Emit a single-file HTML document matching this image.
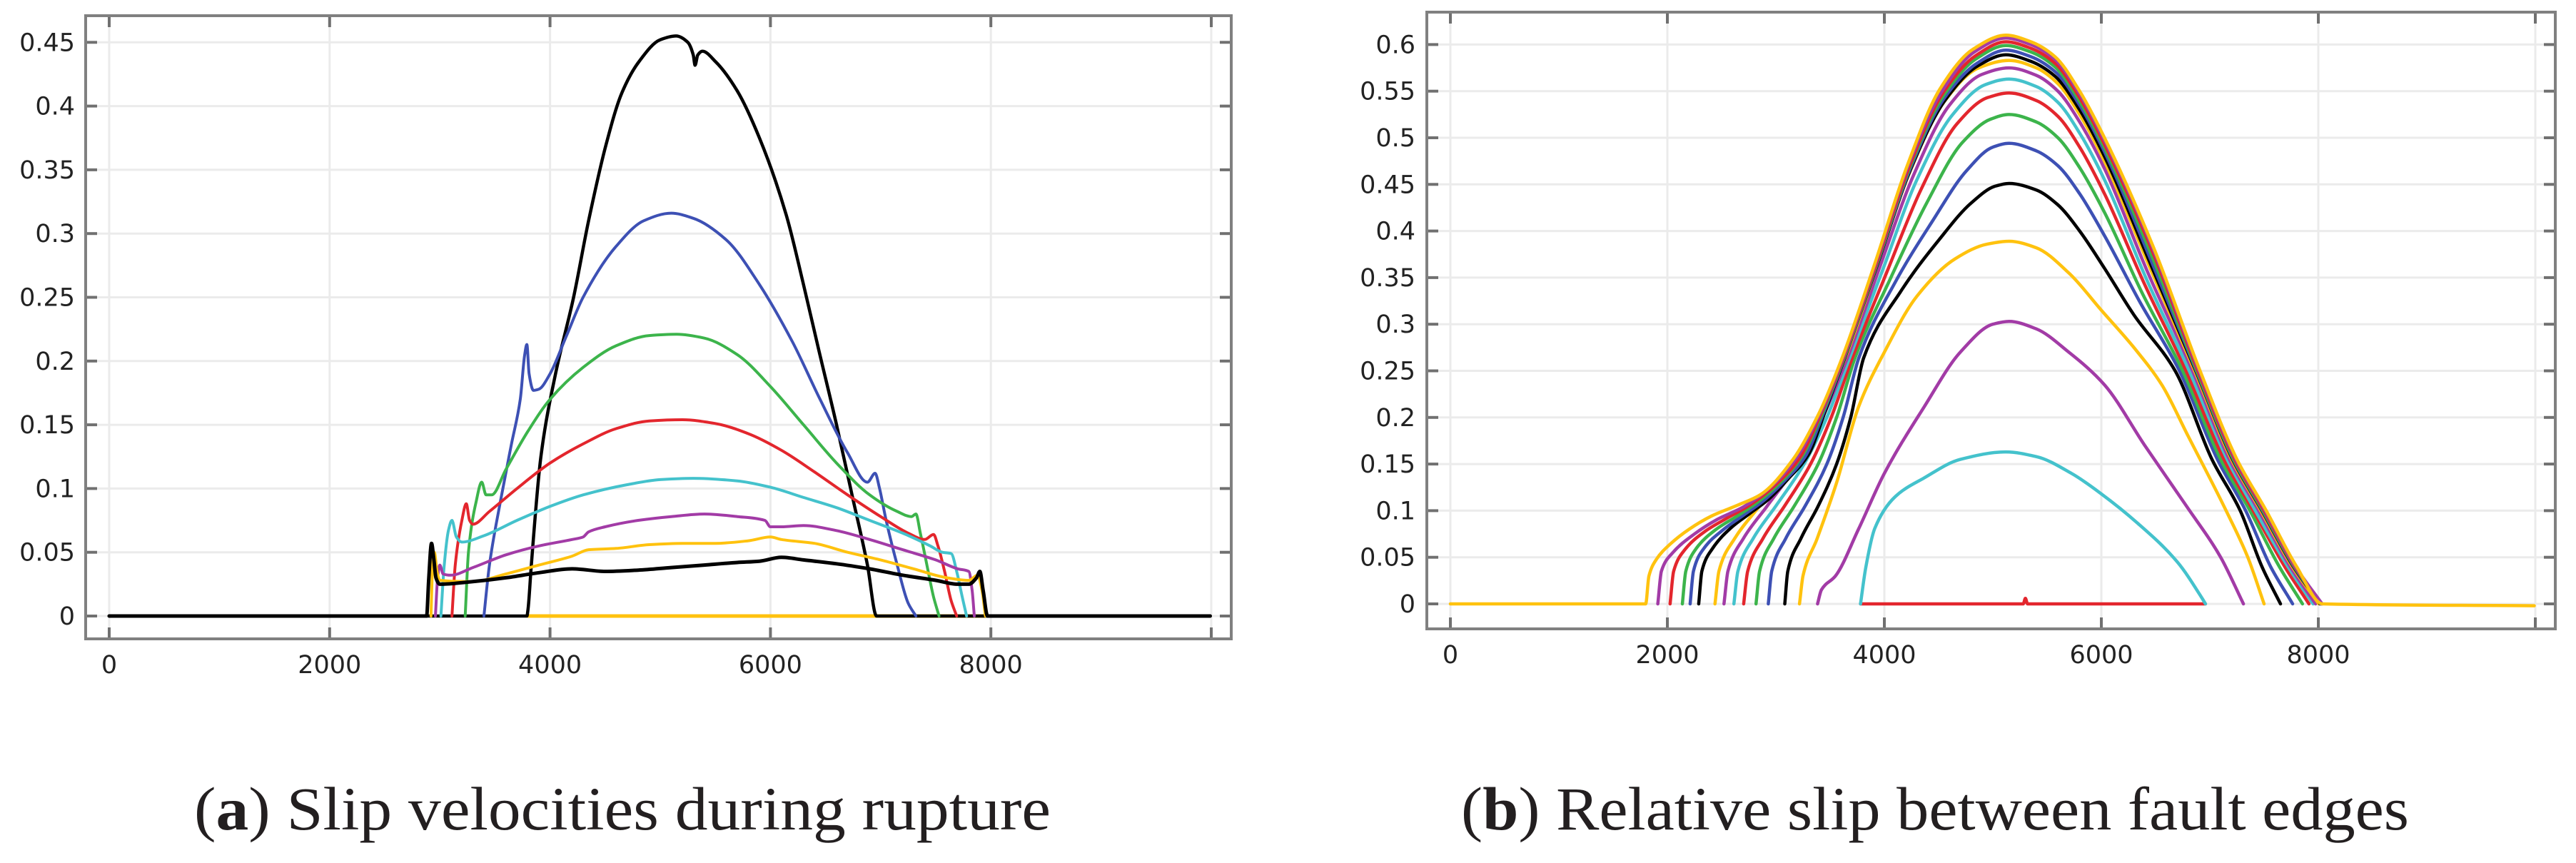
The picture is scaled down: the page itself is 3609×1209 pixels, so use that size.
<!DOCTYPE html>
<html><head><meta charset="utf-8"><style>
html,body{margin:0;padding:0;background:#fff;}
svg{display:block;}
.tick{font-family:"DejaVu Sans","Liberation Sans",sans-serif;font-size:35px;fill:#222;}
.cap{font-family:"Liberation Serif",serif;font-size:86px;fill:#231f20;}
</style></head><body>
<svg id="fig" width="3609" height="1209" viewBox="0 0 3609 1209" xmlns="http://www.w3.org/2000/svg">
<g id="chartA"></g>
<g id="chartB"></g>
<text class="cap" x="872" y="1162" text-anchor="middle" textLength="1200" lengthAdjust="spacingAndGlyphs">(<tspan font-weight="bold">a</tspan>) Slip velocities during rupture</text>
<text class="cap" x="2711" y="1162" text-anchor="middle" textLength="1328" lengthAdjust="spacingAndGlyphs">(<tspan font-weight="bold">b</tspan>) Relative slip between fault edges</text>
</svg>
<script>
// ---------- Chart A data ----------
const aXTicks = [0, 2000, 4000, 6000, 8000, 10000];
const aXTickLabels = ["0", "2000", "4000", "6000", "8000", ""];
const aYTicks = [0, 0.05, 0.1, 0.15, 0.2, 0.25, 0.3, 0.35, 0.4, 0.45];
const aYTickLabels = ["0", "0.05", "0.1", "0.15", "0.2", "0.25", "0.3", "0.35", "0.4", "0.45"];
const aBlackBig = [[0,0],[3790,0],[3800,0.005],[3830,0.04],[3917,0.125],[4050,0.19],[4214,0.25],[4350,0.31],[4509,0.37],[4650,0.41],[4808,0.435],[5000,0.452],[5143,0.455],[5250,0.45],[5300,0.44],[5316,0.432],[5340,0.44],[5383,0.443],[5500,0.435],[5698,0.412],[5900,0.375],[6142,0.315],[6300,0.26],[6443,0.207],[6600,0.15],[6740,0.095],[6880,0.04],[6963,0],[9990,0]];
const aBlue = [[3400,0],[3450,0.04],[3550,0.09],[3650,0.135],[3730,0.17],[3770,0.205],[3790,0.213],[3810,0.19],[3850,0.177],[3900,0.178],[4000,0.19],[4150,0.22],[4300,0.25],[4600,0.29],[4850,0.31],[5100,0.316],[5300,0.312],[5600,0.295],[5900,0.26],[6200,0.215],[6450,0.17],[6700,0.128],[6880,0.105],[6950,0.112],[6990,0.1],[7050,0.075],[7150,0.04],[7250,0.01],[7320,0]];
const aGreen = [[3230,0],[3260,0.05],[3330,0.09],[3380,0.105],[3420,0.095],[3470,0.095],[3600,0.115],[3800,0.145],[4000,0.17],[4300,0.195],[4600,0.212],[4900,0.22],[5150,0.221],[5400,0.218],[5700,0.205],[6000,0.18],[6300,0.15],[6600,0.12],[6900,0.095],[7150,0.082],[7280,0.078],[7320,0.08],[7360,0.065],[7420,0.04],[7480,0.015],[7530,0]];
const aRed = [[3110,0],[3140,0.04],[3200,0.075],[3240,0.088],[3270,0.075],[3300,0.072],[3450,0.082],[3700,0.1],[4000,0.12],[4300,0.135],[4600,0.147],[4900,0.153],[5200,0.154],[5500,0.151],[5800,0.143],[6100,0.13],[6400,0.113],[6700,0.095],[7000,0.078],[7250,0.065],[7400,0.06],[7480,0.064],[7520,0.055],[7580,0.035],[7640,0.012],[7690,0]];
const aCyan = [[3010,0],[3040,0.04],[3080,0.068],[3110,0.075],[3150,0.062],[3200,0.058],[3400,0.063],[3700,0.075],[4000,0.086],[4300,0.095],[4700,0.103],[5000,0.107],[5300,0.108],[5700,0.106],[6000,0.101],[6300,0.093],[6600,0.085],[6900,0.075],[7200,0.065],[7450,0.055],[7560,0.05],[7640,0.049],[7690,0.035],[7740,0.015],[7780,0]];
const aMagenta = [[2960,0],[2980,0.03],[3000,0.04],[3030,0.033],[3100,0.032],[3300,0.038],[3600,0.048],[3900,0.055],[4200,0.06],[4300,0.062],[4350,0.066],[4500,0.07],[4800,0.075],[5100,0.078],[5400,0.08],[5700,0.078],[5950,0.075],[6000,0.07],[6100,0.07],[6300,0.071],[6600,0.067],[6900,0.06],[7200,0.052],[7500,0.044],[7700,0.037],[7800,0.035],[7830,0.02],[7850,0]];
const aYellow = [[2920,0],[2935,0.04],[2950,0.05],[2975,0.035],[3000,0.028],[3300,0.027],[3600,0.033],[3900,0.04],[4200,0.047],[4350,0.052],[4600,0.053],[4900,0.056],[5200,0.057],[5500,0.057],[5800,0.059],[6000,0.062],[6100,0.06],[6400,0.057],[6700,0.05],[7000,0.044],[7300,0.037],[7600,0.03],[7800,0.028],[7880,0.032],[7920,0.02],[7950,0]];
const aYellowBase = [[3800,0],[7950,0]];
const aBlackSmall = [[0,0],[2880,0],[2900,0.03],[2925,0.057],[2945,0.045],[2965,0.03],[3000,0.025],[3300,0.027],[3600,0.03],[3900,0.034],[4200,0.037],[4500,0.035],[4800,0.036],[5100,0.038],[5400,0.04],[5700,0.042],[5900,0.043],[6100,0.046],[6300,0.044],[6600,0.041],[6900,0.037],[7200,0.032],[7500,0.028],[7700,0.025],[7800,0.025],[7870,0.03],[7900,0.035],[7930,0.02],[7970,0],[9990,0]];

// ---------- Chart B data ----------
const bXTicks = [0, 2000, 4000, 6000, 8000, 10000];
const bXTickLabels = ["0", "2000", "4000", "6000", "8000", ""];
const bYTicks = [0,0.05,0.1,0.15,0.2,0.25,0.3,0.35,0.4,0.45,0.5,0.55,0.6];
const bYTickLabels = ["0","0.05","0.1","0.15","0.2","0.25","0.3","0.35","0.4","0.45","0.5","0.55","0.6"];
const bRed0 = [[3780,0],[5280,0],[5300,0.006],[5320,0],[6960,0]];
const bCyan1 = [[3780,0],[3830,0.04],[3912,0.081],[4100,0.115],[4365,0.135],[4700,0.155],[5120,0.163],[5400,0.158],[5725,0.14],[6000,0.118],[6330,0.087],[6700,0.045],[6934,0.005],[6960,0]];
const bMagenta1 = [[3384,0],[3420,0.015],[3550,0.03],[3761,0.08],[4000,0.14],[4365,0.211],[4700,0.27],[5000,0.3],[5150,0.303],[5400,0.295],[5700,0.27],[6029,0.235],[6400,0.17],[6784,0.105],[7100,0.05],[7310,0]];
const bYellow1 = [[3218,0],[3250,0.03],[3380,0.07],[3560,0.13],[3761,0.211],[4000,0.27],[4300,0.33],[4650,0.37],[4950,0.386],[5150,0.389],[5400,0.382],[5700,0.355],[6000,0.315],[6300,0.275],[6557,0.235],[6800,0.18],[7150,0.1],[7350,0.05],[7500,0]];
const bBlack1 = [[3082,0],[3110,0.035],[3230,0.07],[3390,0.105],[3560,0.15],[3690,0.2],[3810,0.264],[4150,0.335],[4500,0.39],[4800,0.43],[5020,0.448],[5150,0.451],[5400,0.444],[5600,0.428],[5800,0.4],[6029,0.36],[6300,0.31],[6680,0.25],[7020,0.155],[7280,0.1],[7480,0.04],[7651,0]];
const bBlue1 = [[2930,0],[2962,0.035],[3090,0.07],[3270,0.105],[3470,0.15],[3620,0.2],[3765,0.264],[4100,0.345],[4440,0.41],[4760,0.465],[5000,0.49],[5150,0.494],[5400,0.486],[5600,0.47],[5800,0.44],[6029,0.395],[6350,0.325],[6720,0.25],[7070,0.155],[7330,0.1],[7560,0.04],[7763,0]];
const bGreen1 = [[2817,0],[2850,0.035],[2980,0.07],[3170,0.105],[3390,0.15],[3560,0.2],[3730,0.264],[4060,0.35],[4390,0.43],[4720,0.495],[4980,0.52],[5150,0.525],[5400,0.517],[5600,0.5],[5800,0.468],[6029,0.42],[6370,0.335],[6750,0.25],[7100,0.155],[7370,0.1],[7640,0.04],[7854,0]];
const bRed1 = [[2703,0],[2740,0.035],[2880,0.07],[3080,0.105],[3320,0.15],[3510,0.2],[3705,0.264],[4020,0.355],[4340,0.445],[4670,0.515],[4950,0.543],[5150,0.548],[5400,0.54],[5600,0.523],[5800,0.49],[6029,0.44],[6390,0.345],[6780,0.25],[7130,0.155],[7400,0.1],[7690,0.04],[7914,0]];
const bCyan2 = [[2613,0],[2650,0.035],[2790,0.07],[3000,0.105],[3260,0.15],[3470,0.2],[3680,0.264],[3990,0.36],[4300,0.455],[4630,0.525],[4930,0.557],[5150,0.563],[5400,0.555],[5600,0.538],[5800,0.505],[6029,0.455],[6410,0.35],[6810,0.25],[7160,0.155],[7420,0.1],[7720,0.04],[7952,0]];
const bMagenta2 = [[2522,0],[2558,0.035],[2700,0.07],[2920,0.105],[3200,0.15],[3430,0.2],[3660,0.264],[3960,0.362],[4270,0.46],[4600,0.535],[4900,0.568],[5150,0.575],[5400,0.567],[5600,0.55],[5800,0.517],[6029,0.467],[6430,0.355],[6840,0.25],[7180,0.155],[7450,0.1],[7740,0.04],[7975,0]];
const bYellow2 = [[2439,0],[2475,0.035],[2620,0.07],[2850,0.105],[3150,0.15],[3400,0.2],[3640,0.264],[3940,0.365],[4240,0.465],[4560,0.54],[4870,0.575],[5150,0.583],[5400,0.575],[5600,0.558],[5800,0.525],[6029,0.475],[6450,0.36],[6860,0.25],[7200,0.155],[7470,0.1],[7760,0.04],[8005,0]];
const bBlack2 = [[2289,0],[2318,0.035],[2420,0.06],[2590,0.082],[2760,0.097],[2930,0.112],[3120,0.135],[3300,0.16],[3450,0.205],[3636,0.264],[3936,0.364],[4238,0.465],[4558,0.54],[4860,0.577],[5120,0.589],[5350,0.582],[5573,0.566],[5800,0.53],[6029,0.48],[6455,0.364],[6870,0.25],[7210,0.155],[7480,0.1],[7770,0.04],[8015,0]];
const bBlue2 = [[2210,0],[2240,0.035],[2340,0.06],[2520,0.08],[2700,0.095],[2880,0.11],[3080,0.132],[3270,0.158],[3440,0.205],[3632,0.264],[3932,0.364],[4235,0.466],[4555,0.543],[4855,0.58],[5120,0.594],[5350,0.587],[5573,0.571],[5800,0.535],[6029,0.485],[6460,0.368],[6875,0.25],[7215,0.155],[7485,0.1],[7775,0.04],[8020,0]];
const bGreen2 = [[2138,0],[2170,0.035],[2270,0.06],[2450,0.08],[2640,0.094],[2820,0.108],[3040,0.13],[3240,0.158],[3430,0.205],[3628,0.264],[3928,0.364],[4230,0.467],[4550,0.546],[4850,0.585],[5120,0.599],[5350,0.592],[5573,0.576],[5800,0.539],[6029,0.489],[6470,0.372],[6880,0.25],[7220,0.155],[7490,0.1],[7780,0.04],[8025,0]];
const bRed2 = [[2025,0],[2058,0.035],[2160,0.058],[2350,0.078],[2550,0.092],[2760,0.106],[3000,0.128],[3210,0.155],[3420,0.205],[3624,0.264],[3924,0.364],[4226,0.468],[4540,0.548],[4840,0.588],[5120,0.603],[5350,0.596],[5573,0.58],[5800,0.543],[6029,0.493],[6482,0.375],[6890,0.25],[7230,0.155],[7500,0.1],[7785,0.04],[8030,0]];
const bMagenta3 = [[1912,0],[1945,0.035],[2050,0.055],[2250,0.075],[2450,0.09],[2700,0.104],[2950,0.125],[3180,0.155],[3410,0.205],[3618,0.264],[3918,0.365],[4220,0.47],[4530,0.55],[4830,0.592],[5120,0.607],[5350,0.6],[5573,0.584],[5800,0.547],[6029,0.497],[6482,0.379],[6900,0.25],[7240,0.155],[7510,0.1],[7790,0.04],[8035,0]];
const bYellow3 = [[0,0],[1800,0],[1830,0.03],[1900,0.048],[2025,0.064],[2200,0.08],[2403,0.094],[2650,0.106],[2856,0.117],[3158,0.155],[3400,0.205],[3611,0.264],[3912,0.365],[4214,0.471],[4516,0.553],[4818,0.595],[5120,0.61],[5350,0.603],[5573,0.587],[5800,0.55],[6029,0.5],[6482,0.382],[6910,0.25],[7250,0.155],[7520,0.1],[7800,0.04],[8040,0],[9990,-0.002]];

const C = {blue:"#3d50b4", green:"#3cb44b", red:"#e3262d", cyan:"#44c2cc", magenta:"#a23ba6", yellow:"#ffc20e", black:"#000000"};
const NS = "http://www.w3.org/2000/svg";

function mk(tag, attrs, parent){
  const el = document.createElementNS(NS, tag);
  for (const k in attrs) el.setAttribute(k, attrs[k]);
  parent.appendChild(el);
  return el;
}
// monotone cubic (Fritsch-Carlson) in x: no overshoot, no loops
function smoothPath(pts, sx, sy){
  const X = pts.map(d => sx(d[0])), Y = pts.map(d => sy(d[1]));
  const n = X.length;
  if (n < 3) return "M" + X.map((x,i)=>x.toFixed(1)+","+Y[i].toFixed(1)).join(" L");
  const dx = [], m = [];
  for (let i = 0; i < n-1; i++){ dx.push(Math.max(X[i+1]-X[i],1e-6)); m.push((Y[i+1]-Y[i])/dx[i]); }
  const t = new Array(n);
  t[0] = m[0]; t[n-1] = m[n-2];
  for (let i = 1; i < n-1; i++){
    if (m[i-1]*m[i] <= 0) t[i] = 0;
    else { const w1 = 2*dx[i]+dx[i-1], w2 = dx[i]+2*dx[i-1]; t[i] = (w1+w2)/(w1/m[i-1]+w2/m[i]); }
  }
  let s = "M" + X[0].toFixed(1) + "," + Y[0].toFixed(1);
  for (let i = 0; i < n-1; i++){
    const h = dx[i]/3;
    s += " C" + (X[i]+h).toFixed(1)+","+(Y[i]+t[i]*h).toFixed(1)+" "+(X[i+1]-h).toFixed(1)+","+(Y[i+1]-t[i+1]*h).toFixed(1)+" "+X[i+1].toFixed(1)+","+Y[i+1].toFixed(1);
  }
  return s;
}

function drawAxes(g, cfg){
  const {fl, fr, ft, fb, sx, sy, xTicks, xLabels, yTicks, yLabels, yLabelX, xLabelY} = cfg;
  xTicks.forEach(v => {
    const gl = mk("line", {x1:sx(v), x2:sx(v), y1:ft, y2:fb, stroke:"#ebebeb", "stroke-width":3}, g);
    
    
  });
  yTicks.forEach(v => {
    const gl = mk("line", {x1:fl, x2:fr, y1:sy(v), y2:sy(v), stroke:"#ebebeb", "stroke-width":3}, g);
    
    
  });
  xTicks.forEach((v,i) => {
    const t1 = mk("line", {x1:sx(v), x2:sx(v), y1:fb, y2:fb-16, stroke:"#707070", "stroke-width":4}, g);
    
    
    const t2 = mk("line", {x1:sx(v), x2:sx(v), y1:ft, y2:ft+16, stroke:"#707070", "stroke-width":4}, g);
    
    
    if (xLabels[i]) {
      const tx = mk("text", {x:sx(v), y:xLabelY, "text-anchor":"middle", class:"tick"}, g);
      tx.textContent = xLabels[i];
      
      
    }
  });
  yTicks.forEach((v,i) => {
    const t1 = mk("line", {x1:fl, x2:fl+16, y1:sy(v), y2:sy(v), stroke:"#707070", "stroke-width":4}, g);
    
    
    const t2 = mk("line", {x1:fr, x2:fr-16, y1:sy(v), y2:sy(v), stroke:"#707070", "stroke-width":4}, g);
    
    
    const tx = mk("text", {x:yLabelX, y:sy(v)+12, "text-anchor":"end", class:"tick"}, g);
    tx.textContent = yLabels[i];
    
    
  });
}
function drawFrame(g, fl, fr, ft, fb){
  const r = mk("rect", {x:fl, y:ft, width:fr-fl, height:fb-ft, fill:"none", stroke:"#808080", "stroke-width":4}, g);
  
  
}
function drawSeries(g, pts, sx, sy, color, w, name){
  const p = mk("path", {d:smoothPath(pts, sx, sy), fill:"none", stroke:color, "stroke-width":w, "stroke-linejoin":"round", "stroke-linecap":"round"}, g);
  
  
}

// Chart A
(function(){
  const g = document.getElementById("chartA");
  const fl=120, fr=1725, ft=22, fb=895;
  const sx = v => 153 + v * (1544/10000);
  const sy = v => 863 - v * 1786;
  drawAxes(g, {fl, fr, ft, fb, sx, sy, xTicks:aXTicks, xLabels:aXTickLabels, yTicks:aYTicks, yLabels:aYTickLabels, yLabelX:105, xLabelY:943});
  drawSeries(g, aYellowBase, sx, sy, C.yellow, 5, "series-yellow-baseline");
  drawSeries(g, aBlackBig, sx, sy, C.black, 4.5, "series-black-peak");
  drawSeries(g, aBlue, sx, sy, C.blue, 4, "series-blue");
  drawSeries(g, aGreen, sx, sy, C.green, 4, "series-green");
  drawSeries(g, aRed, sx, sy, C.red, 4, "series-red");
  drawSeries(g, aCyan, sx, sy, C.cyan, 4, "series-cyan");
  drawSeries(g, aMagenta, sx, sy, C.magenta, 4, "series-magenta");
  drawSeries(g, aYellow, sx, sy, C.yellow, 4, "series-yellow");
  drawSeries(g, aBlackSmall, sx, sy, C.black, 5, "series-black-low");
  drawFrame(g, fl, fr, ft, fb);
})();

// Chart B
(function(){
  const g = document.getElementById("chartB");
  const fl=1999, fr=3580, ft=17, fb=881;
  const sx = v => 2032 + v * 0.152;
  const sy = v => 846 - v * 1306;
  drawAxes(g, {fl, fr, ft, fb, sx, sy, xTicks:bXTicks, xLabels:bXTickLabels, yTicks:bYTicks, yLabels:bYTickLabels, yLabelX:1983, xLabelY:929});
  const list = [
    [bRed0, C.red, "slip-red-0"], [bCyan1, C.cyan, "slip-cyan-1"], [bMagenta1, C.magenta, "slip-magenta-1"],
    [bYellow1, C.yellow, "slip-yellow-1"], [bBlack1, C.black, "slip-black-1"], [bBlue1, C.blue, "slip-blue-1"],
    [bGreen1, C.green, "slip-green-1"], [bRed1, C.red, "slip-red-1"], [bCyan2, C.cyan, "slip-cyan-2"],
    [bMagenta2, C.magenta, "slip-magenta-2"], [bYellow2, C.yellow, "slip-yellow-2"], [bBlack2, C.black, "slip-black-2"],
    [bBlue2, C.blue, "slip-blue-2"], [bGreen2, C.green, "slip-green-2"], [bRed2, C.red, "slip-red-2"],
    [bMagenta3, C.magenta, "slip-magenta-3"], [bYellow3, C.yellow, "slip-yellow-3"]
  ];
  list.forEach(s => drawSeries(g, s[0], sx, sy, s[1], 4.5, s[2]));
  drawFrame(g, fl, fr, ft, fb);
})();
</script>
</body></html>
